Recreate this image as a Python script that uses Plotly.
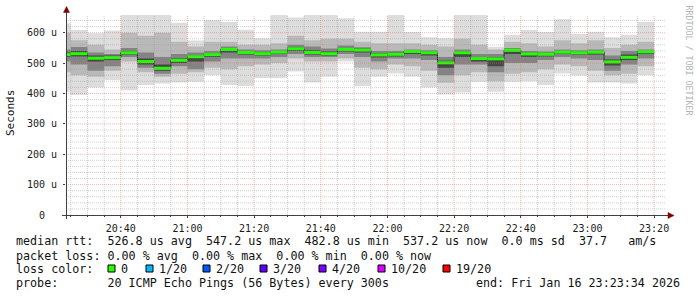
import plotly.graph_objects as go
import pandas as pd

# ---------------- data (µs) ----------------
end_times = pd.date_range("2026-01-16 20:25", "2026-01-16 23:20", freq="5min")

median_us = [528, 531, 516, 518, 534, 505, 482.8, 509, 521, 528, 545, 535, 531, 536, 547.2, 535,
             531, 545, 543, 527, 529, 538, 534, 501, 534, 515, 514, 542, 530, 529, 536, 534,
             536, 504, 519, 537.2]
max_us = [631, 609, 598, 607, 660, 660, 660, 633, 574, 642, 635, 610, 582, 660, 650, 660,
          660, 648, 603, 603, 660, 602, 585, 582, 660, 660, 554, 593, 609, 602, 644, 596,
          603, 585, 593, 635]
min_us = [406, 395, 420, 444, 411, 428, 433, 436, 439, 461, 428, 425, 451, 451, 472, 436,
          455, 505, 425, 455, 466, 455, 420, 397, 403, 439, 406, 439, 440, 428, 466, 459,
          436, 436, 433, 461]
outer_hi = [600, 575, 560, 545, 600, 590, 600, 570, 555, 570, 570, 560, 560, 565, 590, 575,
            580, 580, 570, 565, 565, 565, 560, 555, 580, 560, 545, 570, 565, 555, 575, 565,
            575, 550, 560, 570]
outer_lo = [470, 460, 455, 475, 505, 470, 455, 465, 470, 485, 480, 490, 495, 500, 515, 505,
            505, 515, 485, 480, 495, 490, 475, 435, 460, 470, 440, 465, 470, 480, 495, 490,
            475, 460, 465, 490]
mid_hi = [545, 553, 535, 530, 550, 535, 520, 530, 535, 540, 555, 545, 542, 545, 560, 555,
          548, 558, 552, 540, 540, 545, 542, 520, 545, 530, 530, 550, 540, 538, 545, 542,
          545, 525, 540, 545]
mid_lo = [505, 495, 475, 490, 520, 485, 465, 490, 480, 505, 515, 515, 515, 520, 530, 520,
          520, 530, 520, 505, 515, 515, 510, 460, 495, 495, 470, 500, 500, 510, 520, 515,
          510, 475, 495, 515]
inner_hi = [535, 540, 525, 525, 540, 515, 495, 515, 525, 532, 548, 540, 536, 540, 552, 542,
            538, 550, 548, 532, 534, 541, 538, 508, 538, 520, 520, 545, 534, 532, 540, 538,
            540, 512, 528, 540]
inner_lo = [520, 522, 505, 510, 528, 495, 475, 500, 505, 520, 535, 528, 525, 530, 540, 528,
            525, 538, 535, 518, 522, 530, 525, 485, 520, 505, 490, 530, 520, 522, 530, 528,
            528, 492, 510, 530]

y_tick_vals = [0, 100, 200, 300, 400, 500, 600]
y_tick_text = ["0\u00a0\u00a0", "100 u", "200 u", "300 u", "400 u", "500 u", "600 u"]

loss_labels = ["0", "1/20", "2/20", "3/20", "4/20", "10/20", "19/20"]
loss_colors = ["#26ff00", "#00b8ff", "#0059ff", "#5e00ff", "#7e00ff", "#dd00ff", "#ff0000"]

legend_lines = [
    "median rtt:  526.8 us avg  547.2 us max  482.8 us min  537.2 us now  0.0 ms sd  37.7   am/s",
    "packet loss: 0.00 % avg  0.00 % max  0.00 % min  0.00 % now",
    "loss color:",
    "probe:       20 ICMP Echo Pings (56 Bytes) every 300s",
]
end_text = "end: Fri Jan 16 23:23:34 2026"

# ---------------- geometry ----------------
W, H = 697, 297
L, R, T, B = 66, 31, 15, 82
PW, PH = W - L - R, H - T - B
Y_TOP = 658.3
X_START, X_END = "2026-01-16 20:23:34", "2026-01-16 23:23:34"
MONO = "DejaVu Sans Mono"


def P(xpx):
    return (xpx - L) / PW


def Q(ypx):
    return (T + PH - ypx) / PH


STEP = pd.Timedelta(minutes=5)
xs = list(end_times - STEP) + [end_times[-1]]


def stepped(v):
    return list(v) + [v[-1]]


fig = go.Figure()
bands = [(min_us, max_us, "#dddddd"), (outer_lo, outer_hi, "#b9b9b9"),
         (mid_lo, mid_hi, "#838383"), (inner_lo, inner_hi, "#474747")]
for lo, hi, col in bands:
    fig.add_trace(go.Scatter(x=xs, y=stepped(lo), mode="lines",
                             line=dict(width=0, shape="hv"), hoverinfo="skip", showlegend=False))
    fig.add_trace(go.Scatter(x=xs, y=stepped(hi), mode="lines", fill="tonexty", fillcolor=col,
                             line=dict(width=0, shape="hv"), hoverinfo="skip", showlegend=False))

fig.add_trace(go.Scatter(x=xs, y=stepped(median_us), mode="lines",
                         line=dict(color="#202020", width=1, shape="hv"),
                         hoverinfo="skip", showlegend=False))
gx, gy = [], []
for e, m in zip(end_times, median_us):
    gx += [e - STEP, e, None]
    gy += [m, m, None]
fig.add_trace(go.Scatter(x=gx, y=gy, mode="lines", line=dict(color="#22ff00", width=3),
                         hoverinfo="skip", showlegend=False))

shapes = []
# grid on top of data (rrdtool style)
minor_col = "rgba(150,150,150,0.45)"
major_col = "rgba(235,110,110,0.5)"
for v in range(20, int(Y_TOP), 20):
    shapes.append(dict(type="line", xref="paper", yref="y", x0=0, x1=1, y0=v, y1=v, layer="above",
                       line=dict(color=major_col if v % 100 == 0 else minor_col, width=1, dash="1px,1px")))
grid_times = pd.date_range("2026-01-16 20:25", "2026-01-16 23:20", freq="5min")
for t in grid_times:
    major = (t.minute % 20 == 0)
    shapes.append(dict(type="line", xref="x", yref="paper", x0=t, x1=t, y0=0, y1=1, layer="above",
                       line=dict(color=major_col if major else minor_col, width=1, dash="1px,1px")))

axis_col = "#404040"
arrow_col = "#800000"
shapes.append(dict(type="line", xref="paper", yref="paper", x0=P(62), x1=P(671), y0=Q(215.5), y1=Q(215.5),
                   line=dict(color=axis_col, width=1), layer="above"))
shapes.append(dict(type="line", xref="paper", yref="paper", x0=P(66.5), x1=P(66.5), y0=Q(219), y1=Q(10),
                   line=dict(color=axis_col, width=1), layer="above"))
shapes.append(dict(type="path", xref="paper", yref="paper",
                   path=f"M {P(668)} {Q(212.5)} L {P(674)} {Q(215.5)} L {P(668)} {Q(218.5)} Z",
                   fillcolor=arrow_col, line=dict(color=arrow_col, width=0.5), layer="above"))
shapes.append(dict(type="path", xref="paper", yref="paper",
                   path=f"M {P(63.5)} {Q(12.5)} L {P(66.5)} {Q(6.5)} L {P(69.5)} {Q(12.5)} Z",
                   fillcolor=arrow_col, line=dict(color=arrow_col, width=0.5), layer="above"))

# loss colour boxes
box_left = [108, 146, 203, 260, 319, 378, 443]
annotations = []
for bx, col, lab in zip(box_left, loss_colors, loss_labels):
    shapes.append(dict(type="rect", xref="paper", yref="paper", x0=P(bx), x1=P(bx + 7),
                       y0=Q(272), y1=Q(265), fillcolor=col, line=dict(color="#000000", width=1)))
    annotations.append(dict(xref="paper", yref="paper", x=P(bx + 11), y=Q(268.5), text=lab,
                            showarrow=False, xanchor="left", yanchor="middle",
                            font=dict(family=MONO, size=11.7, color="#111111")))

line_y = [241, 255.5, 268.5, 282.5]
for txt, yy in zip(legend_lines, line_y):
    annotations.append(dict(xref="paper", yref="paper", x=P(14), y=Q(yy), text=txt.replace(" ", "\u00a0"),
                            showarrow=False, xanchor="left", yanchor="middle",
                            font=dict(family=MONO, size=11.7, color="#111111")))
annotations.append(dict(xref="paper", yref="paper", x=P(682), y=Q(282.5), text=end_text.replace(" ", "\u00a0"),
                        showarrow=False, xanchor="right", yanchor="middle",
                        font=dict(family=MONO, size=11.7, color="#111111")))
annotations.append(dict(xref="paper", yref="paper", x=P(10.5), y=Q(113.5), text="Seconds",
                        showarrow=False, textangle=-90, xanchor="center", yanchor="middle",
                        font=dict(family=MONO, size=11, color="#111111")))
annotations.append(dict(xref="paper", yref="paper", x=P(688.5), y=Q(60), text="RRDTOOL / TOBI OETIKER",
                        showarrow=False, textangle=90, xanchor="center", yanchor="middle",
                        font=dict(family=MONO, size=8.3, color="#b4b4b4")))

fig.update_layout(
    width=W, height=H, margin=dict(l=L, r=R, t=T, b=B, pad=0),
    paper_bgcolor="#ffffff", plot_bgcolor="#ffffff",
    shapes=shapes, annotations=annotations, showlegend=False,
    xaxis=dict(type="date", range=[X_START, X_END], tick0="2026-01-16 20:40", dtick=1200000,
               tickformat="%H:%M", showgrid=False, zeroline=False, showline=False,
               ticks="outside", ticklen=2, tickcolor=axis_col, ticklabelstandoff=2,
               tickfont=dict(family=MONO, size=10, color="#1a1a1a"),
               minor=dict(dtick=300000, ticks="outside", ticklen=1, tickcolor=axis_col, showgrid=False)),
    yaxis=dict(range=[0, Y_TOP], tickvals=y_tick_vals, ticktext=y_tick_text, showgrid=False,
               zeroline=False, showline=False, ticks="outside", ticklen=2, tickcolor=axis_col,
               ticklabelstandoff=4, tickfont=dict(family=MONO, size=10, color="#1a1a1a")),
)

fig.write_html("out.html")
